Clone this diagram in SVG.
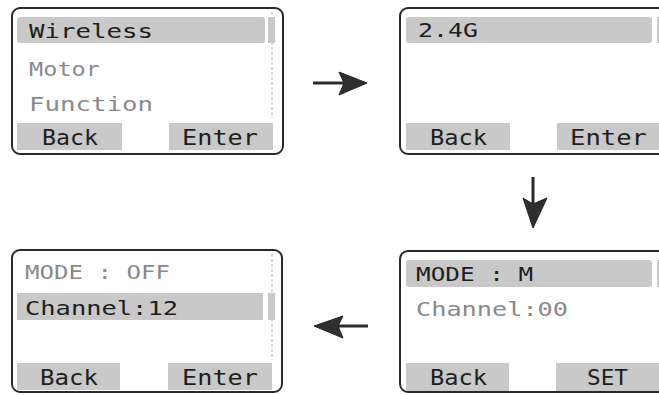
<svg xmlns="http://www.w3.org/2000/svg" width="659" height="395" viewBox="0 0 659 395">
<style>
.frame{fill:#fff;stroke:#2a2a2a;stroke-width:2}
.hl{fill:#c9c9c9}
.track{stroke:#d0d0d0;stroke-width:1.5;stroke-dasharray:3 2}
.t{font-family:"DejaVu Sans Mono","Liberation Mono",monospace;font-size:20px;fill:#1e1e1e}
.g{fill:#8a8a8a}
.b{font-family:"DejaVu Sans Mono","Liberation Mono",monospace;font-size:22px;fill:#1e1e1e}
.conn{stroke:#2a2a2a;stroke-width:3;fill:none}
.head{fill:#2f2f2f;stroke:#222;stroke-width:1}
</style>
<rect width="659" height="395" fill="#fff"/>
<g id="screen-menu">
<rect class="frame" x="12" y="8" width="271" height="146" rx="8"/>
<line class="track" x1="272" y1="12" x2="272" y2="118"/>
<rect class="hl" x="17" y="17" width="248" height="26" rx="3"/>
<rect class="hl" x="268" y="17" width="7" height="26"/>
<text class="t" x="29" y="38" textLength="124" lengthAdjust="spacingAndGlyphs">Wireless</text>
<text class="t g" x="29" y="76" textLength="71" lengthAdjust="spacingAndGlyphs">Motor</text>
<text class="t g" x="29" y="111" textLength="124" lengthAdjust="spacingAndGlyphs">Function</text>
<rect class="hl" x="17" y="123" width="105" height="27"/>
<rect class="hl" x="169" y="123" width="104" height="27"/>
<text class="b" x="42" y="145" textLength="56" lengthAdjust="spacingAndGlyphs">Back</text>
<text class="b" x="182" y="145" textLength="76" lengthAdjust="spacingAndGlyphs">Enter</text>
</g>
<g id="screen-wireless">
<rect class="frame" x="400" y="8" width="300" height="146" rx="8"/>
<rect class="hl" x="406" y="17" width="246" height="26" rx="3"/>
<rect class="hl" x="657" y="17" width="7" height="26"/>
<text class="t" x="418" y="37" textLength="60" lengthAdjust="spacingAndGlyphs">2.4G</text>
<rect class="hl" x="406" y="123" width="104" height="27"/>
<rect class="hl" x="557" y="123" width="110" height="27"/>
<text class="b" x="430" y="145" textLength="57" lengthAdjust="spacingAndGlyphs">Back</text>
<text class="b" x="570" y="145" textLength="77" lengthAdjust="spacingAndGlyphs">Enter</text>
</g>
<g id="screen-mode-m">
<rect class="frame" x="400" y="251" width="300" height="141" rx="8"/>
<rect class="hl" x="406" y="260" width="246" height="27" rx="3"/>
<rect class="hl" x="657" y="260" width="7" height="27"/>
<text class="t" x="416" y="281" textLength="117" lengthAdjust="spacingAndGlyphs">MODE : M</text>
<text class="t g" x="416" y="316" textLength="152" lengthAdjust="spacingAndGlyphs">Channel:00</text>
<rect class="hl" x="406" y="363" width="103" height="28"/>
<rect class="hl" x="556" y="363" width="110" height="28"/>
<text class="b" x="430" y="385" textLength="57" lengthAdjust="spacingAndGlyphs">Back</text>
<text class="b" x="587" y="385" textLength="41" lengthAdjust="spacingAndGlyphs">SET</text>
</g>
<g id="screen-channel">
<rect class="frame" x="12" y="250" width="270" height="142" rx="8"/>
<line class="track" x1="272" y1="254" x2="272" y2="360"/>
<text class="t g" x="25" y="279" textLength="145" lengthAdjust="spacingAndGlyphs">MODE : OFF</text>
<rect class="hl" x="17" y="293" width="246" height="27"/>
<rect class="hl" x="268" y="293" width="7" height="27"/>
<text class="t" x="25" y="315" textLength="153" lengthAdjust="spacingAndGlyphs">Channel:12</text>
<rect class="hl" x="17" y="363" width="103" height="27"/>
<rect class="hl" x="168" y="363" width="104" height="27"/>
<text class="b" x="40" y="385" textLength="58" lengthAdjust="spacingAndGlyphs">Back</text>
<text class="b" x="182" y="385" textLength="76" lengthAdjust="spacingAndGlyphs">Enter</text>
</g>
<g id="connectors">
<line class="conn" x1="313" y1="83" x2="344" y2="83"/>
<polygon class="head" points="339,72 367,83 339,95 344,83"/>
<line class="conn" x1="533" y1="177" x2="533" y2="204"/>
<polygon class="head" points="523,198 533,228 547,198 533,204"/>
<line class="conn" x1="368" y1="326" x2="338" y2="326"/>
<polygon class="head" points="343,316 314,326 343,338 338,326"/>
</g>
</svg>
